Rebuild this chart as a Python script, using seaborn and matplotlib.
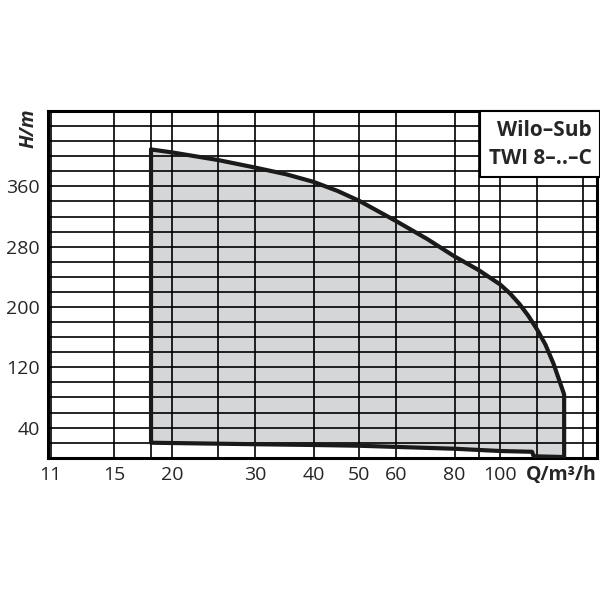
import numpy as np
import pandas as pd
import seaborn as sns
import matplotlib.pyplot as plt
from matplotlib.ticker import FixedLocator, NullLocator

sns.set_style("white")
plt.rcParams['font.family'] = ['Open Sans', 'DejaVu Sans']

# upper curve (max head) and lower curve (min head), Q in m3/h, H in m
upper_q = [18, 20, 25, 30, 35, 40, 45, 50, 60, 70, 80, 90, 100, 105, 110, 115, 120, 125, 130, 137]
upper_h = [409, 405, 395, 385, 376, 366, 354, 341, 314, 290, 267, 249, 230, 218, 204, 188, 170, 150, 125, 84]
lower_q = [137, 118, 117, 100, 80, 50, 40, 30, 18]
lower_h = [1, 2, 8, 9, 12, 16, 17, 18, 20]

x_ticks = [11, 15, 20, 30, 40, 50, 60, 80, 100]
x_grid = [11, 15, 18, 20, 25, 30, 40, 50, 60, 80, 90, 100, 120, 150]
y_ticks = [40, 120, 200, 280, 360]

q = upper_q + lower_q + [upper_q[0]]
h = upper_h + lower_h + [upper_h[0]]
df = pd.DataFrame({'Q': q, 'H': h})

fig = plt.figure(figsize=(6, 6), dpi=100)
ax = fig.add_axes([0.08, 0.237, 0.915, 0.578])
ax.set_xscale('log')
ax.set_xlim(10.85, 161)
ax.set_ylim(0, 460)

ax.fill(df['Q'], df['H'], color='#d5d6d8', zorder=1)
for g in x_grid:
    ax.axvline(g, color='black', lw=1.2, zorder=2)
for g in range(20, 460, 20):
    ax.axhline(g, color='black', lw=1.2, zorder=2)
sns.lineplot(data=df, x='Q', y='H', sort=False, estimator=None, color='#1a1a1a', lw=3.0, ax=ax, zorder=3)

ax.xaxis.set_major_locator(FixedLocator(x_ticks))
ax.xaxis.set_minor_locator(NullLocator())
ax.set_xticklabels([str(t) for t in x_ticks])
ax.set_yticks(y_ticks)
ax.tick_params(labelsize=14, length=0, pad=6)
ax.set_xlabel('')
ax.set_ylabel('')
for s in ax.spines.values():
    s.set_linewidth(2.2)
    s.set_color('black')

ax.text(-0.035, 0.95, 'H/m', transform=ax.transAxes, rotation=90, fontsize=14,
        fontweight='bold', style='italic', ha='center', va='center')
ax.text(0.999, -0.05, 'Q/m³/h', transform=ax.transAxes, fontsize=14,
        fontweight='bold', ha='right', va='center')
ax.text(0.99, 0.975, 'Wilo–Sub\nTWI 8–..–C', transform=ax.transAxes, fontsize=15,
        fontweight='bold', ha='right', va='top', linespacing=1.45, zorder=5,
        bbox=dict(boxstyle='square,pad=0.4', fc='white', ec='black', lw=1.5))

fig.savefig('out.png', dpi=100)
